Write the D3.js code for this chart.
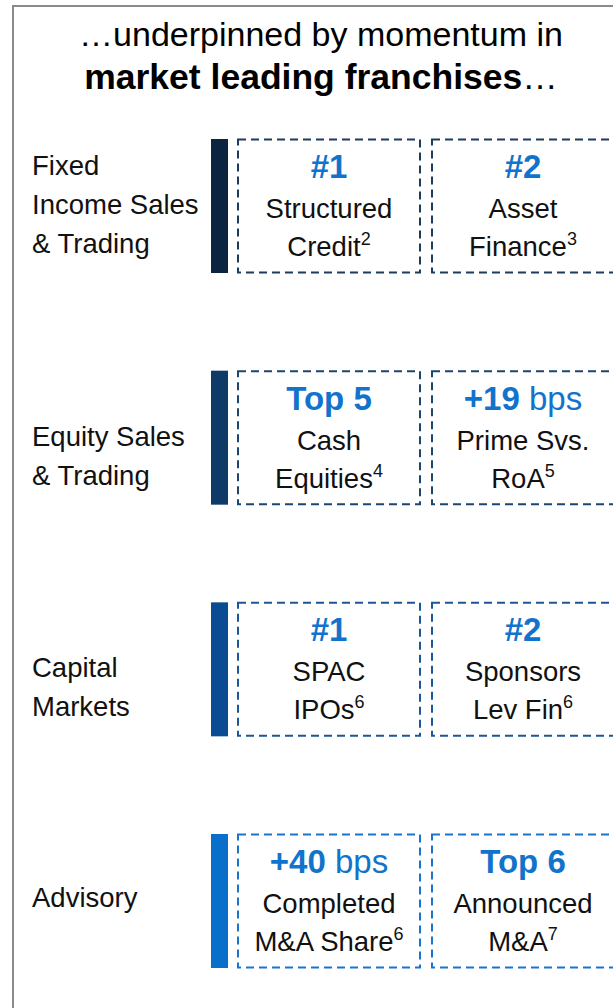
<!DOCTYPE html>
<html>
<head>
<meta charset="utf-8">
<script src="https://cdn.jsdelivr.net/npm/d3@7"></script>
<style>
  body { margin: 0; background: #fff; }
  svg { display: block; }
  text { font-family: "Liberation Sans", Arial, sans-serif; }
</style>
</head>
<body>
<svg id="chart"></svg>
<script>
// rows of the slide, top to bottom
var categories = ["Fixed Income Sales & Trading", "Equity Sales & Trading", "Capital Markets", "Advisory"];
var rowLabels = [["Fixed", "Income Sales", "& Trading"], ["Equity Sales", "& Trading"], ["Capital", "Markets"], ["Advisory"]];

// headline per box (bold part + light unit)
var headlines = [["#1", "#2"], ["Top 5", "+19"], ["#1", "#2"], ["+40", "Top 6"]];
var headlineUnits = [["", ""], ["", " bps"], ["", ""], [" bps", ""]];

// two lines of description + footnote number
var descTop = [["Structured", "Asset"], ["Cash", "Prime Svs."], ["SPAC", "Sponsors"], ["Completed", "Announced"]];
var descBottom = [["Credit", "Finance"], ["Equities", "RoA"], ["IPOs", "Lev Fin"], ["M&A Share", "M&A"]];
var footnotes = [["2", "3"], ["4", "5"], ["6", "6"], ["6", "7"]];

var barColors = ["#0c2440", "#0d3a66", "#0a4b91", "#0a6ecb"];
var dashColors = ["#1d3b5c", "#1c4670", "#1d5698", "#1a74cc"];
var accent = "#1273cc";

var W = 613, H = 1008;
var svg = d3.select("#chart").attr("width", W).attr("height", H);

// frame
svg.append("rect")
  .attr("x", 13).attr("y", 6)
  .attr("width", 700).attr("height", 1100)
  .attr("fill", "none").attr("stroke", "#8a8a8a").attr("stroke-width", 2);

// title
var title = svg.append("text").attr("text-anchor", "middle").attr("fill", "#000").attr("font-size", 34);
title.append("tspan").attr("x", 321).attr("y", 46).text("\u2026underpinned by momentum in");
var t2 = title.append("tspan").attr("x", 321).attr("y", 89).attr("font-size", 35.5);
t2.append("tspan").attr("font-weight", 700).text("market leading franchises");
t2.append("tspan").text("\u2026");

// scales
var y = d3.scaleBand().domain(categories).range([139, 968]).paddingInner(0.4216);
var x = d3.scaleBand().domain([0, 1]).range([238, 614]).paddingInner(0.0619);

var rows = svg.selectAll("g.row")
  .data(categories)
  .enter()
  .append("g")
  .attr("class", "row")
  .attr("transform", function(d) { return "translate(0," + y(d) + ")"; });

var bh = y.bandwidth();
var mid = bh / 2;

// colored bar
rows.append("rect")
  .attr("x", 211).attr("y", 0)
  .attr("width", 17).attr("height", bh)
  .attr("fill", function(d, i) { return barColors[i]; });

// row label
rows.each(function(d, i) {
  var g = d3.select(this);
  var lines = rowLabels[i];
  var last = lines.length > 1 ? mid + 47 : mid + 6;
  var t = g.append("text").attr("font-size", 27.5).attr("fill", "#111");
  lines.forEach(function(l, k) {
    t.append("tspan").attr("x", 32).attr("y", last - (lines.length - 1 - k) * 39).text(l);
  });
});

// boxes
rows.each(function(d, i) {
  var g = d3.select(this);
  [0, 1].forEach(function(c) {
    var bx = x(c), bw = x.bandwidth(), cx = bx + bw / 2;
    g.append("rect")
      .attr("x", bx).attr("y", 0.5)
      .attr("width", bw).attr("height", bh - 1)
      .attr("fill", "none")
      .attr("stroke", dashColors[i])
      .attr("stroke-width", 2)
      .attr("stroke-dasharray", "8,5");

    var h = g.append("text").attr("text-anchor", "middle").attr("fill", accent).attr("font-size", 33)
      .attr("x", cx).attr("y", mid - 28);
    h.append("tspan").attr("font-weight", 700).text(headlines[i][c]);
    if (headlineUnits[i][c]) h.append("tspan").text(headlineUnits[i][c]);

    g.append("text").attr("text-anchor", "middle").attr("fill", "#111").attr("font-size", 27.5)
      .attr("x", cx).attr("y", mid + 12)
      .text(descTop[i][c]);

    var b = g.append("text").attr("text-anchor", "middle").attr("fill", "#111").attr("font-size", 27.5)
      .attr("x", cx).attr("y", mid + 50);
    b.append("tspan").text(descBottom[i][c]);
    b.append("tspan").attr("font-size", 18).attr("dy", -11).text(footnotes[i][c]);
  });
});
</script>
</body>
</html>
